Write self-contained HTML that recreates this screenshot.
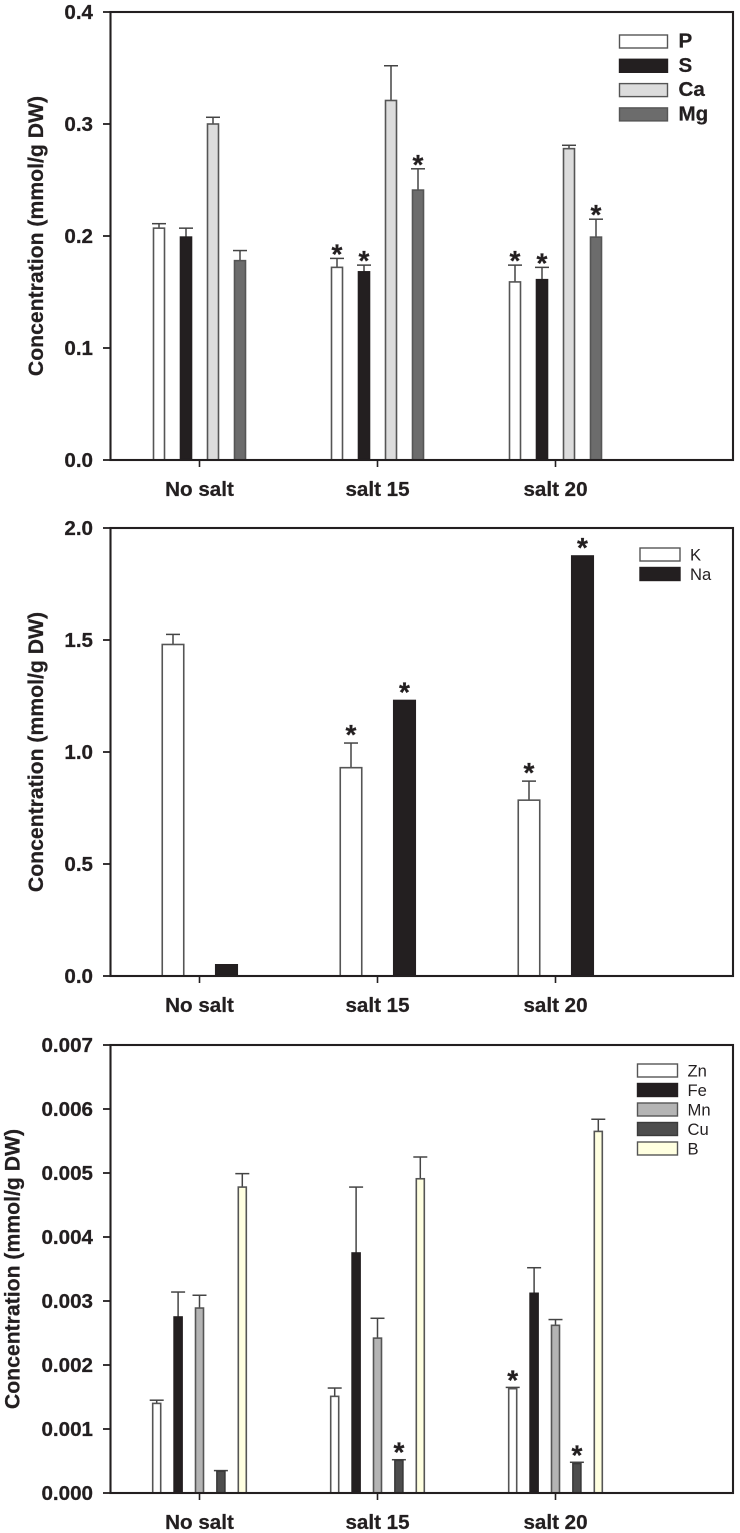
<!DOCTYPE html>
<html>
<head>
<meta charset="utf-8">
<title>Ion concentration charts</title>
<style>
html,body{margin:0;padding:0;background:#fff;}
svg{display:block;}
text{font-family:"Liberation Sans",sans-serif;fill:#231f20;}
.b{font-weight:bold;stroke:#231f20;stroke-width:.25px;}
</style>
</head>
<body>
<svg id="root" xmlns="http://www.w3.org/2000/svg" width="740" height="1533" viewBox="0 0 740 1533"></svg>
<script>
// ---- shared categories ----
var groups = ['No salt', 'salt 15', 'salt 20'];

// ---- chart 1 data ----
var c1Series = ['P', 'S', 'Ca', 'Mg'];
var c1Ticks = ['0.0', '0.1', '0.2', '0.3', '0.4'];
var c1P = [0.207, 0.172, 0.159];
var c1S = [0.199, 0.168, 0.161];
var c1Ca = [0.300, 0.321, 0.278];
var c1Mg = [0.178, 0.241, 0.199];
var c1PErr = [0.004, 0.008, 0.015];
var c1SErr = [0.008, 0.006, 0.011];
var c1CaErr = [0.006, 0.031, 0.003];
var c1MgErr = [0.009, 0.019, 0.016];
var c1PStar = [0, 1, 1];
var c1SStar = [0, 1, 1];
var c1CaStar = [0, 0, 0];
var c1MgStar = [0, 1, 1];

// ---- chart 2 data ----
var c2Series = ['K', 'Na'];
var c2Ticks = ['0.0', '0.5', '1.0', '1.5', '2.0'];
var c2K = [1.48, 0.93, 0.785];
var c2Na = [0.05, 1.23, 1.875];
var c2KErr = [0.045, 0.11, 0.085];
var c2NaErr = [0, 0, 0];
var c2KStar = [0, 1, 1];
var c2NaStar = [0, 1, 1];

// ---- chart 3 data ----
var c3Series = ['Zn', 'Fe', 'Mn', 'Cu', 'B'];
var c3Ticks = ['0.000', '0.001', '0.002', '0.003', '0.004', '0.005', '0.006', '0.007'];
var c3Zn = [0.00140, 0.00151, 0.00163];
var c3Fe = [0.00275, 0.00375, 0.00312];
var c3Mn = [0.00289, 0.00242, 0.00262];
var c3Cu = [0.00034, 0.00051, 0.00046];
var c3B = [0.00478, 0.00491, 0.00565];
var c3ZnErr = [0.00005, 0.00013, 0.00002];
var c3FeErr = [0.00039, 0.00103, 0.00040];
var c3MnErr = [0.00020, 0.00031, 0.00009];
var c3CuErr = [0.00001, 0.00001, 0.00002];
var c3BErr = [0.00021, 0.00034, 0.00019];
var c3ZnStar = [0, 0, 1];
var c3FeStar = [0, 0, 0];
var c3MnStar = [0, 0, 0];
var c3CuStar = [0, 1, 1];
var c3BStar = [0, 0, 0];

var NS = 'http://www.w3.org/2000/svg';
var root = document.getElementById('root');
var INK = '#231f20';

function mk(parent, tag, attrs, txt) {
  var el = document.createElementNS(NS, tag);
  for (var k in attrs) { el.setAttribute(k, attrs[k]); }
  if (txt !== undefined) { el.textContent = txt; }
  parent.appendChild(el);
  return el;
}

function drawChart(cfg) {
  var g = mk(root, 'g', {});
  
  

  var left = 110.5, right = 733, top = cfg.top, bottom = cfg.top + 448;
  var maxV = parseFloat(cfg.ticks[cfg.ticks.length - 1]);
  function y(v) { return bottom - (v / maxV) * (bottom - top); }
  function x(i) { return cfg.x0 + i * 178; }

  // bars, errors, stars
  cfg.values.forEach(function (vals, s) {
    var off = cfg.offsets0 + s * cfg.step;
    vals.forEach(function (v, i) {
      var cx = x(i) + off;
      var errTop = y(v + cfg.errs[s][i]);
      if (cfg.errs[s][i] > 0) {
        var stem = mk(g, 'line', {x1: cx, x2: cx, y1: y(v), y2: errTop, stroke: '#444444', 'stroke-width': 1.5});
        
        
        var cap = mk(g, 'line', {x1: cx - 7, x2: cx + 7, y1: errTop, y2: errTop, stroke: '#444444', 'stroke-width': 1.5});
        
        
      }
      var bar = mk(g, 'rect', {x: cx - cfg.w / 2, y: y(v), width: cfg.w, height: bottom - y(v), fill: cfg.fills[s], stroke: cfg.strokes[s], 'stroke-width': 1.6});
      
      
      if (cfg.stars[s][i]) {
        var st = mk(g, 'text', {x: cx, y: errTop + cfg.starDy, 'text-anchor': 'middle', 'font-size': 28, 'class': 'b'}, '*');
        
        
      }
    });
  });

  // frame
  var frame = mk(g, 'rect', {x: left, y: top, width: right - left, height: bottom - top, fill: 'none', stroke: INK, 'stroke-width': 2.1});
  
  

  // y ticks
  cfg.ticks.forEach(function (t) {
    var v = parseFloat(t);
    var tk = mk(g, 'line', {x1: 103, x2: left, y1: y(v), y2: y(v), stroke: INK, 'stroke-width': 1.8});
    
    
    var lb = mk(g, 'text', {x: 93, y: y(v) + 7, 'text-anchor': 'end', 'font-size': 20.6, 'class': 'b'}, t);
    
    
  });

  // x ticks
  groups.forEach(function (name, i) {
    var tk = mk(g, 'line', {x1: x(i), x2: x(i), y1: bottom, y2: bottom + 7, stroke: INK, 'stroke-width': 1.6});
    
    
    var lb = mk(g, 'text', {x: x(i), y: bottom + 36, 'text-anchor': 'middle', 'font-size': 20.6, 'class': 'b'}, name);
    
    
  });

  // y title
  var title = mk(g, 'text', {x: 0, y: 0, transform: 'translate(' + cfg.titleX + ' ' + cfg.titleY + ') rotate(-90)', 'text-anchor': 'middle', 'font-size': 21.2, 'class': 'b'}, 'Concentration (mmol/g DW)');
  
  

  // legend
  var lg = cfg.legend;
  var lgG = mk(g, 'g', {});
  
  
  cfg.series.forEach(function (name, s) {
    var ly = lg.y + s * lg.dy;
    var sw = mk(lgG, 'rect', {x: lg.x, y: ly, width: lg.w, height: lg.h, fill: cfg.fills[s], stroke: cfg.strokes[s], 'stroke-width': 1.4});
    
    
    var tx = mk(lgG, 'text', {x: lg.x + lg.w + lg.gap, y: ly + lg.h / 2 + lg.base, 'font-size': lg.size, 'class': lg.bold ? 'b' : ''}, name);
    
    
  });
}

drawChart({
  name: 'macro-nutrient-chart', top: 12, x0: 199.5, ticks: c1Ticks, series: c1Series,
  values: [c1P, c1S, c1Ca, c1Mg], errs: [c1PErr, c1SErr, c1CaErr, c1MgErr], stars: [c1PStar, c1SStar, c1CaStar, c1MgStar],
  fills: ['#ffffff', INK, '#dcdcdc', '#6c6c6c'], strokes: ['#555555', INK, '#555555', '#555555'],
  offsets0: -40.5, step: 27, w: 11, starDy: 5, titleX: 43, titleY: 236,
  legend: {x: 619.5, y: 35, dy: 24.3, w: 48, h: 13, gap: 11, size: 20.6, bold: true, base: 6}
});
drawChart({
  name: 'potassium-sodium-chart', top: 528, x0: 199.5, ticks: c2Ticks, series: c2Series,
  values: [c2K, c2Na], errs: [c2KErr, c2NaErr], stars: [c2KStar, c2NaStar],
  fills: ['#ffffff', INK], strokes: ['#555555', INK],
  offsets0: -26.5, step: 53.5, w: 21.5, starDy: 1, titleX: 43, titleY: 752,
  legend: {x: 640, y: 548, dy: 19.5, w: 40, h: 13, gap: 10, size: 16.6, bold: false, base: 6}
});
drawChart({
  name: 'micro-nutrient-chart', top: 1045, x0: 199.5, ticks: c3Ticks, series: c3Series,
  values: [c3Zn, c3Fe, c3Mn, c3Cu, c3B], errs: [c3ZnErr, c3FeErr, c3MnErr, c3CuErr, c3BErr], stars: [c3ZnStar, c3FeStar, c3MnStar, c3CuStar, c3BStar],
  fills: ['#ffffff', INK, '#b4b4b4', '#4d4d4d', '#ffffe0'], strokes: ['#555555', INK, '#555555', '#3a3a3a', '#555555'],
  offsets0: -42.8, step: 21.4, w: 8, starDy: 2, titleX: 19.5, titleY: 1269,
  legend: {x: 637.5, y: 1064, dy: 19.5, w: 40, h: 13, gap: 10, size: 16.6, bold: false, base: 6}
});
</script>
</body>
</html>
